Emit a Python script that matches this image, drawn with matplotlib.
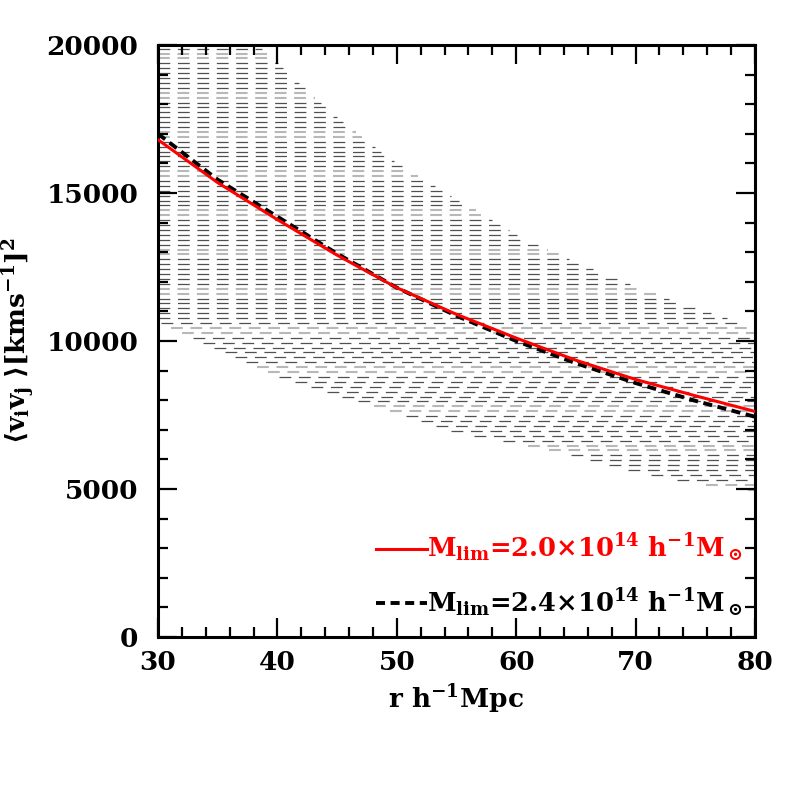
import numpy as np
import matplotlib
matplotlib.use('Agg')
import matplotlib.pyplot as plt
from matplotlib.ticker import MultipleLocator

# values
r = [30, 35, 40, 45, 50, 55, 60, 65, 70, 75, 80]
vv_20 = [16800, 15350, 14100, 12900, 11800, 10900, 10100, 9350, 8700, 8150, 7620]
vv_24 = [17000, 15450, 14200, 12950, 11800, 10850, 10000, 9250, 8580, 7980, 7440]
band_hi = [23500, 21300, 19400, 17550, 16000, 14800, 13600, 12650, 11850, 11100, 10480]
band_lo = [10650, 9720, 8800, 8180, 7560, 6900, 6560, 6100, 5580, 5190, 4950]

lab_20 = r'$\mathrm{M_{lim}}$=2.0$\times$10$^{14}$ h$^{-1}$M$_\odot$'
lab_24 = r'$\mathrm{M_{lim}}$=2.4$\times$10$^{14}$ h$^{-1}$M$_\odot$'

plt.rcParams['font.family'] = 'DejaVu Serif'
plt.rcParams['font.weight'] = 'bold'
plt.rcParams['axes.labelweight'] = 'bold'
plt.rcParams['mathtext.fontset'] = 'custom'
plt.rcParams['mathtext.rm'] = 'DejaVu Serif:bold'
plt.rcParams['mathtext.it'] = 'DejaVu Serif:bold'
plt.rcParams['mathtext.bf'] = 'DejaVu Serif:bold'
plt.rcParams['lines.scale_dashes'] = False

fig = plt.figure(figsize=(7.97, 7.97), dpi=100)
ax = fig.add_axes([158/797, 1-637/797, 597/797, 592/797])

# hatched band: horizontal dashed rows, each starting at the band's left edge
rows = np.arange(band_lo[-1] + 30, 20000, 165.5)
x_lo_rev = np.interp(rows, band_lo[::-1], r[::-1])
x_hi_rev = np.interp(rows, band_hi[::-1], r[::-1])
for i, y in enumerate(rows):
    x0 = x_lo_rev[i] if y < band_lo[0] else r[0]
    x1 = x_hi_rev[i] if y > band_hi[-1] else r[-1]
    if x1 <= x0:
        continue
    light = ((i * 0.125 + 0.1) % 1.0) < 0.33
    if light:
        ax.plot([x0, x1], [y, y], color='#b8b8b8', lw=1.5, dashes=(8.5, 5.5),
                dash_capstyle='butt', zorder=1)
    else:
        ax.plot([x0, x1], [y, y], color='#505050', lw=0.9, dashes=(8.5, 5.5),
                dash_capstyle='butt', zorder=1)

ax.plot(r, vv_20, color='red', lw=2.2, zorder=3, label=lab_20)
ax.plot(r, vv_24, color='black', lw=2.8, dashes=(6.5, 4), zorder=2, label=lab_24)

ax.set_xlim(30, 80)
ax.set_ylim(0, 20000)
ax.xaxis.set_major_locator(MultipleLocator(10))
ax.xaxis.set_minor_locator(MultipleLocator(2))
ax.yaxis.set_major_locator(MultipleLocator(5000))
ax.yaxis.set_minor_locator(MultipleLocator(1000))
ax.tick_params(which='both', direction='in', top=True, right=True, width=1.6)
ax.tick_params(which='major', length=14, labelsize=19)
ax.tick_params(which='minor', length=7)
ax.tick_params(axis='x', pad=9)
ax.tick_params(axis='y', pad=14)
for s in ax.spines.values():
    s.set_linewidth(2.2)

ax.set_xlabel(r'r h$^{-1}$Mpc', fontsize=19, labelpad=6)
ax.set_ylabel(r'$\langle\mathrm{v_iv_j}\;\rangle[\mathrm{kms^{-1}}]^2$', fontsize=19, labelpad=6)

leg = ax.legend(loc='lower right', frameon=False, fontsize=18.5, handlelength=2.0,
                handletextpad=0.0, labelspacing=0.85, borderaxespad=0.3,
                bbox_to_anchor=(1.01, 0.0))
leg.get_texts()[0].set_color('red')

fig.savefig('out.png', dpi=100)
